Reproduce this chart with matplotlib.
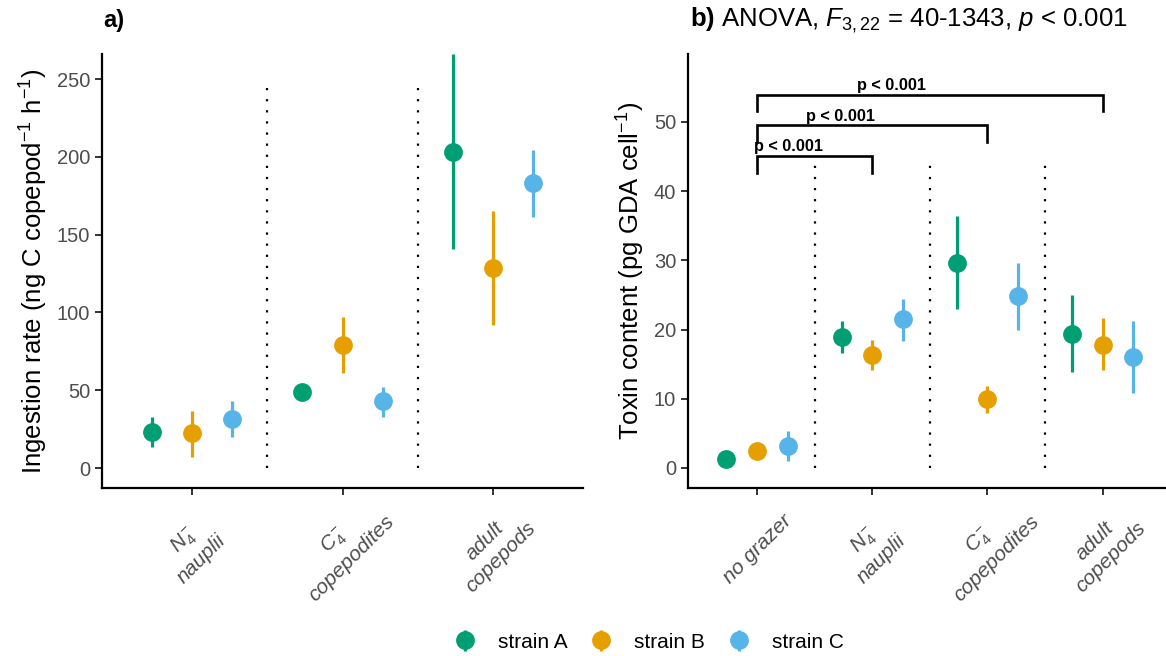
import matplotlib
matplotlib.use("Agg")
import matplotlib.pyplot as plt
import numpy as np

plt.rcParams["font.family"] = ["Liberation Sans", "DejaVu Sans"]
plt.rcParams["mathtext.fontset"] = "custom"
plt.rcParams["mathtext.rm"] = "Liberation Sans"
plt.rcParams["mathtext.it"] = "Liberation Sans:italic"
plt.rcParams["mathtext.bf"] = "Liberation Sans:bold"

strains = ["strain A", "strain B", "strain C"]
colors = ["#009E73", "#E69F00", "#56B4E9"]

# panel a: ingestion rate (mean, lower, upper) per stage
stages_a = ["N$_4^-$\nnauplii", "C$_4^-$\ncopepodites", "adult\ncopepods"]
ing_mean = {"strain A": [23.3, 48.6, 202.9],
            "strain B": [22.3, 79.0, 128.7],
            "strain C": [31.7, 42.9, 183.2]}
ing_lo = {"strain A": [13.7, 47.5, 140.5],
          "strain B": [6.9, 61.3, 91.9],
          "strain C": [20.1, 33.0, 161.5]}
ing_hi = {"strain A": [33.0, 49.5, 266.0],
          "strain B": [36.8, 96.8, 165.4],
          "strain C": [43.0, 52.3, 204.6]}

# panel b: toxin content per treatment
stages_b = ["no grazer", "N$_4^-$\nnauplii", "C$_4^-$\ncopepodites", "adult\ncopepods"]
tox_mean = {"strain A": [1.3, 18.9, 29.6, 19.4],
            "strain B": [2.4, 16.3, 10.0, 17.8],
            "strain C": [3.2, 21.5, 24.8, 16.1]}
tox_lo = {"strain A": [1.0, 16.6, 22.9, 13.8],
          "strain B": [2.0, 14.1, 7.9, 14.1],
          "strain C": [1.05, 18.4, 19.9, 10.9]}
tox_hi = {"strain A": [1.7, 21.3, 36.4, 25.0],
          "strain B": [2.8, 18.5, 11.9, 21.6],
          "strain C": [5.4, 24.4, 29.6, 21.3]}

# significance brackets: (from, to, bar height, leg bottom, label x)
bracket_from = [1, 1, 1]
bracket_to = [2, 3, 4]
bracket_y = [45.1, 49.5, 53.9]
bracket_leg = [42.6, 47.1, 51.5]
bracket_label_x = [1.27, 1.72, 2.17]
bracket_text = ["p < 0.001", "p < 0.001", "p < 0.001"]

dodge = [-0.267, 0.0, 0.267]
tick_grey = "#4D4D4D"


def point_ranges(ax, means, lows, highs):
    handles = []
    for k, s in enumerate(strains):
        x = np.arange(1, len(means[s]) + 1) + dodge[k]
        m = np.array(means[s])
        err = [m - np.array(lows[s]), np.array(highs[s]) - m]
        h = ax.errorbar(x, m, yerr=err, fmt="o", color=colors[k], ms=12.5,
                        elinewidth=2.3, capsize=0, label=s, zorder=3)
        handles.append(h)
    return handles


def style_axes(ax, labels):
    for side in ["top", "right"]:
        ax.spines[side].set_visible(False)
    for side in ["left", "bottom"]:
        ax.spines[side].set_linewidth(1.6)
    ax.tick_params(axis="both", length=5, width=1.4, color="#333333",
                   labelcolor=tick_grey, labelsize=14.5)
    ax.set_xticks(np.arange(1, len(labels) + 1))
    ax.set_xticklabels(labels, rotation=45, rotation_mode="anchor",
                       ha="center", va="center", fontstyle="italic",
                       multialignment="center", fontsize=15)
    ax.tick_params(axis="x", pad=39)


fig = plt.figure(figsize=(11.66, 6.56), dpi=100)
ax1 = fig.add_axes([102 / 1166, 168 / 656, 481 / 1166, 434 / 656])
ax2 = fig.add_axes([688 / 1166, 168 / 656, 478 / 1166, 434 / 656])

# panel a
handles = point_ranges(ax1, ing_mean, ing_lo, ing_hi)
ax1.vlines([1.5, 2.5], 0, 245.5, colors="black", linestyles=(0, (1, 4)),
           linewidth=1.6)
ax1.set_xlim(0.4, 3.6)
ax1.set_ylim(-12.85, 266.1)
ax1.set_yticks([0, 50, 100, 150, 200, 250])
style_axes(ax1, stages_a)
ax1.set_ylabel("Ingestion rate (ng C copepod$^{-1}$ h$^{-1}$)", fontsize=18.5,
               labelpad=5)

# panel b
point_ranges(ax2, tox_mean, tox_lo, tox_hi)
ax2.vlines([1.5, 2.5, 3.5], 0, 44.8, colors="black", linestyles=(0, (1, 4)),
           linewidth=1.6)
for x0, x1, yb, yl, lx, t in zip(bracket_from, bracket_to, bracket_y,
                                 bracket_leg, bracket_label_x, bracket_text):
    ax2.plot([x0, x0, x1, x1], [yl, yb, yb, yl], color="black", lw=1.9,
             solid_joinstyle="miter", zorder=4)
    ax2.text(lx, yb + 0.2, t, ha="center", va="bottom", fontsize=11.7,
             fontweight="bold")
ax2.set_xlim(0.4, 4.55)
ax2.set_ylim(-2.89, 59.8)
ax2.set_yticks([0, 10, 20, 30, 40, 50])
style_axes(ax2, stages_b)
ax2.set_ylabel("Toxin content (pg GDA cell$^{-1}$)", fontsize=18.5, labelpad=5)

fig.text(103 / 1166, 1 - 20 / 656, "a)", fontsize=17, fontweight="bold",
         ha="left", va="center")
fig.text(690 / 1166, 1 - 20 / 656,
         r"$\mathbf{b)}$ ANOVA, $F_{3,22}$ = 40-1343, $p$ < 0.001",
         fontsize=18.5, ha="left", va="center")

fig.legend(handles, strains, loc="center", ncol=3, frameon=False,
           bbox_to_anchor=(648 / 1166, 1 - 642 / 656), fontsize=15,
           handlelength=1.2, handletextpad=1.0, columnspacing=1.0)

fig.savefig("out.png", dpi=100)
